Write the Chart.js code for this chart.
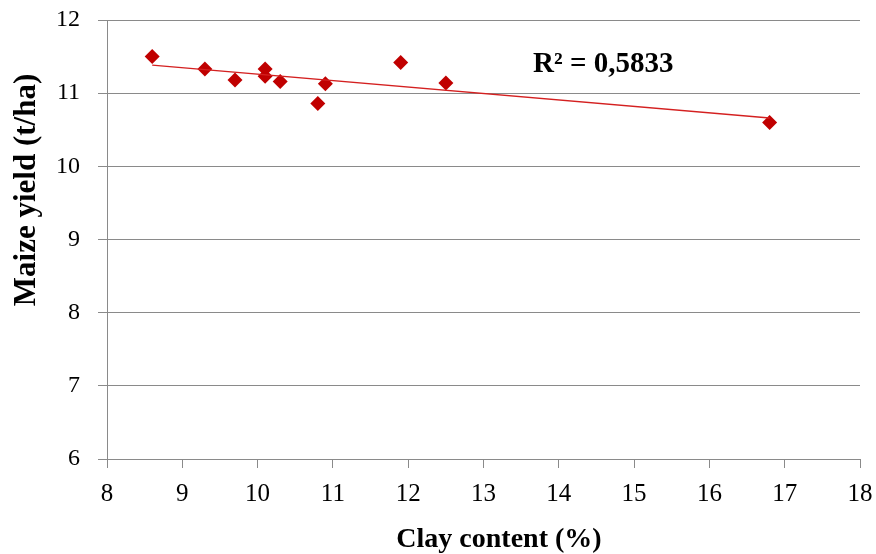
<!DOCTYPE html>
<html>
<head>
<meta charset="utf-8">
<script src="https://cdn.jsdelivr.net/npm/chart.js@4/dist/chart.umd.min.js"></script>
<style>
html,body{margin:0;padding:0;background:#fff;}
#wrap{width:876px;height:554px;position:relative;}
</style>
</head>
<body>
<div id="wrap"><canvas id="c" width="876" height="554"></canvas></div>
<script>
// Data
const clayContent = [8.6, 9.3, 9.7, 10.1, 10.1, 10.3, 10.8, 10.9, 11.9, 12.5, 16.8];
const maizeYield  = [11.50, 11.33, 11.18, 11.33, 11.23, 11.16, 10.86, 11.13, 11.42, 11.14, 10.60];
const xTicks = [8, 9, 10, 11, 12, 13, 14, 15, 16, 17, 18];
const yTicks = [6, 7, 8, 9, 10, 11, 12];
const xTitle = 'Clay content (%)';
const yTitle = 'Maize yield (t/ha)';
const r2Label = 'R² = 0,5833';

// Linear trendline (least squares) from the data
const n = clayContent.length;
const mx = clayContent.reduce((a,b)=>a+b,0)/n;
const my = maizeYield.reduce((a,b)=>a+b,0)/n;
let sxy = 0, sxx = 0;
for (let i=0;i<n;i++){ sxy += (clayContent[i]-mx)*(maizeYield[i]-my); sxx += (clayContent[i]-mx)**2; }
const slope = sxy/sxx, icpt = my - slope*mx;
const xMin = Math.min(...clayContent), xMax = Math.max(...clayContent);
const trend = [{x:xMin, y:icpt+slope*xMin}, {x:xMax, y:icpt+slope*xMax}];

const points = clayContent.map((x,i)=>({x, y:maizeYield[i]}));

const FONT = "'Liberation Serif','Times New Roman',serif";
const GRID = '#8a8a8a';

const textPlugin = {
  id:'texts',
  afterDraw(chart){
    const ctx = chart.ctx;
    ctx.save();
    ctx.fillStyle = '#000';
    // R² label
    ctx.font = "bold 29px " + FONT;
    ctx.textAlign = 'left';
    ctx.textBaseline = 'alphabetic';
    ctx.fillText(r2Label, 533, 72);
    // x title
    ctx.font = "bold 28px " + FONT;
    ctx.textAlign = 'center';
    ctx.fillText(xTitle, 499, 547);
    // y title
    ctx.translate(35, 190);
    ctx.rotate(-Math.PI/2);
    ctx.font = "bold 31px " + FONT;
    ctx.textAlign = 'center';
    ctx.fillText(yTitle, 0, 0);
    ctx.restore();
  }
};

new Chart(document.getElementById('c'), {
  type:'scatter',
  data:{
    datasets:[
      {
        label:'Maize yield',
        data:points,
        pointStyle:'rectRot',
        pointRadius:7.5,
        pointHoverRadius:7.5,
        backgroundColor:'#C00000',
        borderColor:'#C00000',
        borderWidth:0,
        order:2
      },
      {
        type:'line',
        label:'Trend',
        data:trend,
        borderColor:'#D42020',
        borderWidth:1.3,
        pointRadius:0,
        fill:false,
        order:1
      }
    ]
  },
  plugins:[textPlugin],
  options:{
    responsive:false,
    animation:false,
    devicePixelRatio:1,
    layout:{padding:{left:0, right:16, top:20, bottom:0}},
    plugins:{legend:{display:false}, tooltip:{enabled:false}},
    scales:{
      x:{
        type:'linear',
        min:xTicks[0], max:xTicks[xTicks.length-1],
        afterBuildTicks(s){ s.ticks = xTicks.map(v=>({value:v})); },
        afterFit(s){ s.height = 95; s.paddingLeft = 0; s.paddingRight = 0; },
        border:{display:true, color:GRID, width:1},
        grid:{drawOnChartArea:false, drawTicks:true, tickLength:9, color:GRID},
        ticks:{color:'#000', font:{family:FONT, size:25}, padding:11, maxRotation:0, autoSkip:false}
      },
      y:{
        type:'linear',
        min:yTicks[0], max:yTicks[yTicks.length-1],
        afterBuildTicks(s){ s.ticks = yTicks.map(v=>({value:v})); },
        afterFit(s){ s.width = 107; s.paddingTop = 0; s.paddingBottom = 0; },
        border:{display:true, color:GRID, width:1},
        grid:{drawOnChartArea:true, drawTicks:true, tickLength:9, color:GRID},
        ticks:{color:'#000', font:{family:FONT, size:24}, padding:18, autoSkip:false}
      }
    }
  }
});
</script>
</body>
</html>
